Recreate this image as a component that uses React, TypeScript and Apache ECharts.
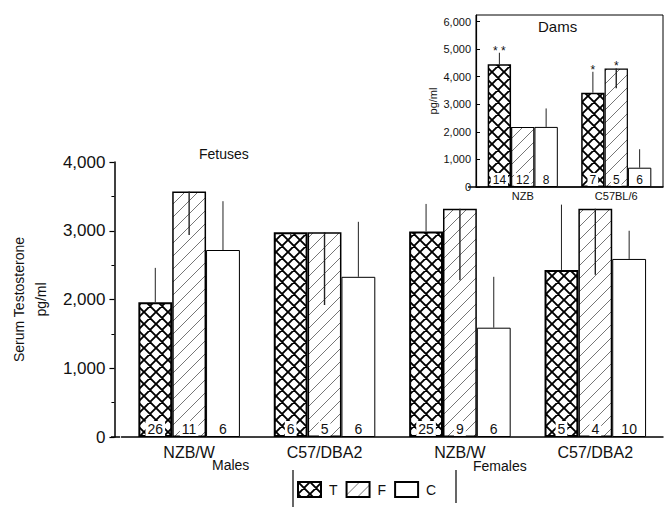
import React, { useEffect, useRef } from 'react';
import * as echarts from 'echarts';

const fetusGroups = ['NZB/W', 'C57/DBA2', 'NZB/W', 'C57/DBA2'];
const fetusT = [1960, 2980, 2990, 2430];
const fetusF = [3570, 2980, 3320, 3320];
const fetusC = [2720, 2330, 1590, 2590];
const fetusTErr = [2460, 2900, 3390, 3380];
const fetusFErr = [2940, 1920, 2280, 2360];
const fetusCErr = [3430, 3130, 2330, 3000];
const fetusTN = [26, 6, 25, 5];
const fetusFN = [11, 5, 9, 4];
const fetusCN = [6, 6, 6, 10];
const fetusTicks = [0, 1000, 2000, 3000, 4000];

const damGroups = ['NZB', 'C57BL/6'];
const damT = [4450, 3420];
const damF = [2180, 4300];
const damC = [2180, 700];
const damTErr = [4870, 4180];
const damFErr = [2180, 3580];
const damCErr = [2850, 1370];
const damTN = [14, 7];
const damFN = [12, 5];
const damCN = [8, 6];
const damTSig = ['* *', '*'];
const damFSig = ['', '*'];
const damCSig = ['', ''];

const FONT = 'Liberation Sans, Arial, sans-serif';

function makeCross() {
  const s = 12;
  const c = document.createElement('canvas');
  c.width = s; c.height = s;
  const g = c.getContext('2d')!;
  g.fillStyle = '#fff'; g.fillRect(0, 0, s, s);
  g.strokeStyle = '#000'; g.lineWidth = 1.9;
  g.beginPath();
  for (const k of [-s, 0, s]) {
    g.moveTo(k, 0); g.lineTo(k + s, s);
    g.moveTo(k + s, 0); g.lineTo(k, s);
  }
  g.stroke();
  return { image: c, repeat: 'repeat', imageWidth: s, imageHeight: s } as any;
}

function makeHatch() {
  const s = 13;
  const c = document.createElement('canvas');
  c.width = s; c.height = s;
  const g = c.getContext('2d')!;
  g.fillStyle = '#fff'; g.fillRect(0, 0, s, s);
  g.strokeStyle = '#666'; g.lineWidth = 0.9;
  g.beginPath();
  for (const k of [-s, 0, s]) {
    g.moveTo(k, s); g.lineTo(k + s, 0);
  }
  g.stroke();
  return { image: c, repeat: 'repeat', imageWidth: s, imageHeight: s } as any;
}

function errData(lists: number[][], ends: number[][]) {
  const out: number[][] = [];
  lists.forEach((vals, s) => {
    vals.forEach((v, i) => out.push([i, s, v, ends[s][i]]));
  });
  return out;
}

export default function App() {
  const ref = useRef<HTMLDivElement>(null);
  useEffect(() => {
    if (!ref.current) return;
    const chart = echarts.init(ref.current, null, { renderer: 'svg' });
    const cross = makeCross();
    const hatch = makeHatch();
    const fmt = (v: number) => v.toLocaleString('en-US');

    const mainErr = errData([fetusT, fetusF, fetusC], [fetusTErr, fetusFErr, fetusCErr]);
    const damErr = errData([damT, damF, damC], [damTErr, damFErr, damCErr]);
    const damSigs = [...damTSig, ...damFSig, ...damCSig];

    const errRender = (sigs: string[] | null, fs: number) => (params: any, api: any) => {
      const cat = api.value(0), s = api.value(1), v = api.value(2), e = api.value(3);
      const band = api.size([1, 0])[0];
      const bw = (band * 0.75) / 3;
      const p0 = api.coord([cat, v]);
      const p1 = api.coord([cat, e]);
      const x = p0[0] + (s - 1) * bw;
      const children: any[] = [
        { type: 'line', shape: { x1: x, y1: p0[1], x2: x, y2: p1[1] }, style: { stroke: '#222', lineWidth: s === 1 ? 1.4 : 1 } },
      ];
      const sig = sigs ? sigs[params.dataIndex] : '';
      if (sig) {
        children.push({
          type: 'text', x, y: Math.min(p0[1], p1[1]) + 4,
          style: { text: sig, fontSize: fs, fontFamily: FONT, fill: '#111', align: 'center', verticalAlign: 'bottom' },
        });
      }
      return { type: 'group', children };
    };

    const barLabel = (ns: number[], fs: number, bg: boolean) => ({
      show: true, position: 'insideBottom', distance: 1,
      formatter: (p: any) => String(ns[p.dataIndex]),
      fontSize: fs, fontFamily: FONT, color: '#111',
      backgroundColor: bg ? '#fff' : 'transparent', padding: [1, 2, 0, 2],
    });

    const bar = (name: string, data: number[], color: any, bw: number, ns: number[], fs: number, axis: number) => ({
      name, type: 'bar', data, xAxisIndex: axis, yAxisIndex: axis,
      barGap: '0%', barCategoryGap: '25%',
      itemStyle: { color, borderColor: '#000', borderWidth: bw },
      label: barLabel(ns, fs, color !== '#fff'),
      emphasis: { disabled: true },
    });

    chart.setOption({
      animation: false,
      textStyle: { fontFamily: FONT },
      legend: {
        left: 292, top: 476, itemWidth: 23, itemHeight: 15, itemGap: 8,
        icon: 'rect', data: ['T', 'F', 'C'],
        textStyle: { fontSize: 14, color: '#111', padding: [0, 0, 0, 3] },
        selectedMode: false,
      },
      grid: [
        { left: 119, right: 7, top: 162, bottom: 70 },
        { left: 476, right: 7, top: 15, bottom: 320, show: true, borderColor: '#000', borderWidth: 1, backgroundColor: 'transparent' },
      ],
      xAxis: [
        {
          type: 'category', gridIndex: 0, data: fetusGroups,
          axisTick: { show: false },
          axisLine: { lineStyle: { color: '#000', width: 1.5 } },
          axisLabel: { fontSize: 16, color: '#111', margin: 7 },
        },
        {
          type: 'category', gridIndex: 1, data: damGroups,
          axisTick: { show: false },
          axisLine: { lineStyle: { color: '#000', width: 1.5 } },
          axisLabel: { fontSize: 11, color: '#111', margin: 3 },
        },
      ],
      yAxis: [
        {
          type: 'value', gridIndex: 0, min: fetusTicks[0], max: fetusTicks[fetusTicks.length - 1], interval: 1000, offset: 7,
          name: 'Serum Testosterone\npg/ml', nameLocation: 'middle', nameGap: 62, nameRotate: 90,
          nameTextStyle: { fontSize: 14, color: '#111', lineHeight: 22 },
          axisLine: { show: true, lineStyle: { color: '#000', width: 1.5 } },
          axisTick: { show: true, length: 5, lineStyle: { color: '#000', width: 1.2 } },
          minorTick: { show: true, splitNumber: 2, length: 3, lineStyle: { color: '#000', width: 1 } },
          splitLine: { show: false },
          axisLabel: { fontSize: 17, color: '#111', margin: 9, formatter: fmt },
        },
        {
          type: 'value', gridIndex: 1, min: 0, max: 6240, interval: 1000,
          name: 'pg/ml', nameLocation: 'middle', nameGap: 38, nameRotate: 90,
          nameTextStyle: { fontSize: 11, color: '#111' },
          axisLine: { show: true, lineStyle: { color: '#000', width: 1.2 } },
          axisTick: { show: true, inside: true, length: 4, lineStyle: { color: '#000' } },
          splitLine: { show: false },
          axisLabel: { fontSize: 11, color: '#111', margin: 5, formatter: fmt, showMaxLabel: false },
        },
      ],
      graphic: [
        { type: 'text', left: 199, top: 147, style: { text: 'Fetuses', fontSize: 14, fontFamily: FONT, fill: '#111' } },
        { type: 'text', left: 538, top: 19, style: { text: 'Dams', fontSize: 15, fontFamily: FONT, fill: '#111' } },
        { type: 'text', left: 212, top: 458, style: { text: 'Males', fontSize: 14, fontFamily: FONT, fill: '#111' } },
        { type: 'text', left: 473, top: 459, style: { text: 'Females', fontSize: 14, fontFamily: FONT, fill: '#111' } },
        { type: 'line', shape: { x1: 111, y1: 437, x2: 120, y2: 437 }, style: { stroke: '#000', lineWidth: 1.5 } },
        { type: 'line', shape: { x1: 468, y1: 187, x2: 477, y2: 187 }, style: { stroke: '#000', lineWidth: 1.5 } },
        { type: 'line', shape: { x1: 293, y1: 470, x2: 293, y2: 507 }, style: { stroke: '#000', lineWidth: 1.2 } },
        { type: 'line', shape: { x1: 456, y1: 470, x2: 456, y2: 503 }, style: { stroke: '#000', lineWidth: 1.2 } },
      ],
      series: [
        bar('T', fetusT, cross, 2, fetusTN, 14, 0),
        bar('F', fetusF, hatch, 1.5, fetusFN, 14, 0),
        bar('C', fetusC, '#fff', 1, fetusCN, 14, 0),
        {
          type: 'custom', xAxisIndex: 0, yAxisIndex: 0, z: 5, silent: true,
          data: mainErr, renderItem: errRender(null, 12),
        },
        bar('T', damT, cross, 1.5, damTN, 12, 1),
        bar('F', damF, hatch, 1.2, damFN, 12, 1),
        bar('C', damC, '#fff', 1, damCN, 12, 1),
        {
          type: 'custom', xAxisIndex: 1, yAxisIndex: 1, z: 5, silent: true,
          data: damErr, renderItem: errRender(damSigs, 12),
        },
      ],
    });
    return () => chart.dispose();
  }, []);
  return <div ref={ref} style={{ position: 'fixed', left: 0, top: 0, width: 670, height: 507, background: '#fff' }} />;
}
